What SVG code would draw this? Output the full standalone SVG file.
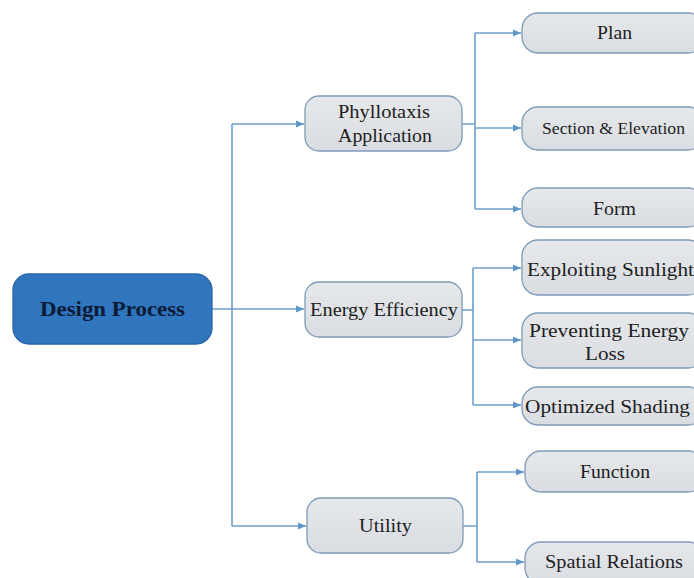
<svg xmlns="http://www.w3.org/2000/svg" width="694" height="578" viewBox="0 0 694 578">
<defs>
<linearGradient id="g" x1="0" y1="0" x2="0" y2="1"><stop offset="0" stop-color="#e6e8eb"/><stop offset="1" stop-color="#d9dce1"/></linearGradient>
<marker id="ar" markerWidth="8" markerHeight="8" refX="8" refY="4" orient="auto" markerUnits="userSpaceOnUse"><path d="M0,0.5 L8,4 L0,7.5 Z" fill="#5f97c9"/></marker>
<style>
.b{fill:url(#g);stroke:#7f9bb8;stroke-width:1.3}
.t{font-size:19px;fill:#1e1e1e;text-anchor:middle}
.c{fill:none;stroke:#6d9fcc;stroke-width:1.6}
.a{marker-end:url(#ar)}
</style>
</defs>
<rect width="694" height="578" fill="#ffffff"/>
<g id="connectors">
<path class="c" d="M232 124 V526"/>
<path class="c a" d="M212 309 H304"/>
<path class="c a" d="M232 124 H304"/>
<path class="c a" d="M232 526 H306"/>
<path class="c" d="M462 124 H475 M475 33 V209"/>
<path class="c a" d="M475 33 H521"/>
<path class="c a" d="M475 128 H521"/>
<path class="c a" d="M475 209 H521"/>
<path class="c" d="M462 310 H473 M473 268 V405"/>
<path class="c a" d="M473 268 H521"/>
<path class="c a" d="M473 340 H521"/>
<path class="c a" d="M473 405 H521"/>
<path class="c" d="M463 526 H477 M477 472 V562"/>
<path class="c a" d="M477 472 H524"/>
<path class="c a" d="M477 562 H524"/>
</g>
<g font-family="Liberation Serif, Times New Roman, DejaVu Serif, serif" lengthAdjust="spacingAndGlyphs">
<g id="design-process">
<rect x="13" y="274" width="199" height="70" rx="16" fill="#2f76bf" stroke="#2a66a6" stroke-width="1.3"/>
<text x="112.5" y="316" class="t" font-weight="bold" style="font-size:21px;fill:#0c1a36" textLength="145" lengthAdjust="spacingAndGlyphs">Design Process</text>
</g>
<g id="phyllotaxis-application">
<rect class="b" x="305" y="96" width="157" height="55" rx="14"/>
<text class="t" x="384" y="118" textLength="92" lengthAdjust="spacingAndGlyphs">Phyllotaxis</text>
<text class="t" x="385" y="142" textLength="94" lengthAdjust="spacingAndGlyphs">Application</text>
</g>
<g id="energy-efficiency">
<rect class="b" x="305" y="282" width="157" height="55" rx="14"/>
<text class="t" x="384" y="316" textLength="148" lengthAdjust="spacingAndGlyphs">Energy Efficiency</text>
</g>
<g id="utility">
<rect class="b" x="307" y="498" width="156" height="55" rx="14"/>
<text class="t" x="385.5" y="532" textLength="53" lengthAdjust="spacingAndGlyphs">Utility</text>
</g>
<g id="plan">
<rect class="b" x="522" y="13" width="182" height="40" rx="16"/>
<text class="t" x="614.5" y="39" textLength="35" lengthAdjust="spacingAndGlyphs">Plan</text>
</g>
<g id="section-elevation">
<rect class="b" x="522" y="107" width="182" height="43" rx="16"/>
<text class="t" x="613.5" y="134" style="font-size:17px" textLength="143" lengthAdjust="spacingAndGlyphs">Section &amp; Elevation</text>
</g>
<g id="form">
<rect class="b" x="522" y="188" width="182" height="39" rx="16"/>
<text class="t" x="614.5" y="215" textLength="43" lengthAdjust="spacingAndGlyphs">Form</text>
</g>
<g id="exploiting-sunlight">
<rect class="b" x="522" y="240" width="182" height="55" rx="16"/>
<text class="t" x="610.5" y="276" textLength="167" lengthAdjust="spacingAndGlyphs">Exploiting Sunlight</text>
</g>
<g id="preventing-energy-loss">
<rect class="b" x="522" y="313" width="182" height="55" rx="16"/>
<text class="t" x="609" y="337" textLength="160" lengthAdjust="spacingAndGlyphs">Preventing Energy</text>
<text class="t" x="605" y="360" textLength="40" lengthAdjust="spacingAndGlyphs">Loss</text>
</g>
<g id="optimized-shading">
<rect class="b" x="522" y="387" width="182" height="38" rx="16"/>
<text class="t" x="607.5" y="413" textLength="165" lengthAdjust="spacingAndGlyphs">Optimized Shading</text>
</g>
<g id="function">
<rect class="b" x="525" y="451" width="179" height="41" rx="16"/>
<text class="t" x="615" y="478" textLength="70" lengthAdjust="spacingAndGlyphs">Function</text>
</g>
<g id="spatial-relations">
<rect class="b" x="525" y="542" width="179" height="42" rx="16"/>
<text class="t" x="614" y="568" textLength="138" lengthAdjust="spacingAndGlyphs">Spatial Relations</text>
</g>
</g>
</svg>
